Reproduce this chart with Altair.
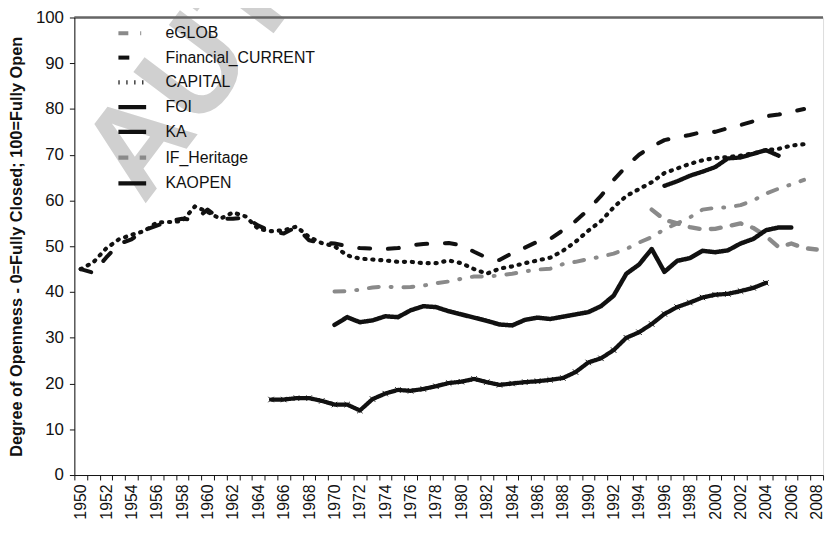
import altair as alt
import pandas as pd

# ---- data ----
years_all = list(range(1950, 2009))
series_names = ["eGLOB", "Financial_CURRENT", "CAPITAL", "FOI", "KA", "IF_Heritage", "KAOPEN"]

fc_start = 1950
fc_vals = [45, 44.2, 47.5, 50.5, 51.5, 53.5, 54.5, 55.5, 56, 55.8, 58.0, 56.0, 56, 56.3, 54.5, 53.3, 52.8, 54.2, 51.3, 50.7,
           50.6, 50, 49.6, 49.5, 49.4, 49.6, 50.2, 50.5, 50.6, 50.7, 50.2, 48.8, 47.5, 47, 48.5, 49.7, 51, 51.6,
           53.5, 55.5, 58, 61, 64.5, 67.5, 70, 71.8, 73.2, 73.8, 74.3, 75, 75, 75.8, 76.5, 77.3, 78.4, 78.8, 79.4, 80]

cap_start = 1950
cap_vals = [45, 46.5, 49.5, 51.5, 52.5, 53.3, 55.2, 55.3, 55.5, 58.7, 57.5, 56, 57.4, 56.5, 53.8, 53.3, 53.5, 54.3, 52, 50.7,
            50.0, 48.0, 47.3, 47.1, 46.9, 46.6, 46.6, 46.3, 46.3, 46.9, 46.3, 45, 44, 45.1, 45.6, 46.3, 46.9, 47.5,
            49, 51, 53.4, 55.5, 58.5, 61, 62.5, 64, 66, 67, 68, 68.8, 69.3, 69.5, 69.8, 70.3, 71, 71.3, 72, 72.3]

eglob_start = 1970
eglob_vals = [40.1, 40.2, 40.5, 41, 41.2, 41, 41.1, 41.4, 41.9, 42.3, 42.9, 43.4, 43.4, 43.6, 44, 44.5, 44.9, 45.1, 46.1, 46.6,
              47.2, 47.7, 48.4, 49.4, 50.8, 52, 53.7, 55, 56.3, 58, 58.4, 58.5, 59, 60, 61.5, 62.6, 63.5, 64.5]

foi_start = 1965
foi_vals = [16.5, 16.5, 16.8, 16.8, 16.2, 15.4, 15.4, 14.1, 16.6, 17.8, 18.6, 18.4, 18.8, 19.4, 20.1, 20.4, 21.0, 20.3, 19.7,
            20.0, 20.3, 20.5, 20.8,
            21.2, 22.5, 24.6, 25.5, 27.3, 30.0, 31.2, 33.0, 35.2, 36.7, 37.7, 38.8, 39.4, 39.6, 40.2, 40.9, 42.0]

kaopen_start = 1970
kaopen_vals = [32.8, 34.5, 33.4, 33.8, 34.7, 34.5, 36.0, 36.9, 36.7, 35.8, 35.1, 34.4, 33.7, 32.9, 32.7, 33.9, 34.4, 34.1,
               34.6, 35.1, 35.6, 36.9, 39.2, 44.0, 46.0, 49.4, 44.4, 46.8, 47.4, 49.0, 48.7, 49.1, 50.6, 51.6, 53.5, 54.1, 54.1]

ka_start = 1996
ka_vals = [63.2, 64.2, 65.4, 66.3, 67.3, 69.2, 69.4, 70.2, 71.0, 69.8]

ifh_start = 1995
ifh_vals = [58.0, 55.8, 55.0, 54.2, 53.7, 53.8, 54.4, 55.0, 54.0, 52.2, 49.8, 50.6, 49.6, 49.3]

series_data = {
    "eGLOB": (eglob_start, eglob_vals),
    "Financial_CURRENT": (fc_start, fc_vals),
    "CAPITAL": (cap_start, cap_vals),
    "FOI": (foi_start, foi_vals),
    "KA": (ka_start, ka_vals),
    "IF_Heritage": (ifh_start, ifh_vals),
    "KAOPEN": (kaopen_start, kaopen_vals),
}

rows = []
for name, (start, vals) in series_data.items():
    for i, v in enumerate(vals):
        rows.append({"year": start + i, "openness": v, "series": name})
df = pd.DataFrame(rows)
foi_df = df[df["series"] == "FOI"]

# ---- styles ----
colors = ["#8a8a8a", "#111111", "#111111", "#111111", "#111111", "#8a8a8a", "#111111"]
dashes = [[10, 12, 1, 12], [11, 18], [1.2, 6.8], [1, 0], [1, 0], [10, 11.5], [1, 0]]
widths = [4, 4.5, 3.5, 1.2, 4.5, 4, 1.6]

FONT = "Liberation Sans"
W, H = 756, 462

legend = alt.Legend(
    title=None, orient="none", legendX=42, legendY=0, symbolType="stroke",
    symbolSize=784, labelFontSize=16, labelFont=FONT, labelOffset=17,
    rowPadding=0, labelColor="#111",
)

x_enc = alt.X("year:O",
              scale=alt.Scale(type="band", domain=years_all, paddingInner=0, paddingOuter=0),
              bandPosition=0.5,
              axis=alt.Axis(title=None, labelAngle=270, labelOverlap=False,
                            labelExpr="datum.value % 2 == 0 ? datum.label : ''",
                            tickBand="extent", tickSize=5, labelFontSize=16, labelFont=FONT,
                            labelPadding=4, labelColor="#111", domainColor="#111", tickColor="#111",
                            grid=False))
y_enc = alt.Y("openness:Q",
              scale=alt.Scale(domain=[0, 100], nice=False),
              axis=alt.Axis(values=list(range(0, 101, 10)),
                            title="Degree of Openness - 0=Fully Closed; 100=Fully Open",
                            titleFontWeight="bold", titleFontSize=16.5, titleFont=FONT, titleColor="#111",
                            titlePadding=11, labelFontSize=17, labelFont=FONT, labelColor="#111",
                            labelPadding=6, tickSize=5, grid=False, domainColor="#111",
                            tickColor="#111", zindex=1))

watermark = alt.Chart(pd.DataFrame({"t": ["AUTHOR'S PROOF"]})).mark_text(
    align="left", baseline="alphabetic", angle=307, fontSize=130, fontWeight="bold",
    font=FONT, color="#d0d0d0"
).encode(text="t:N", x=alt.value(70), y=alt.value(190))

lines = alt.Chart(df).mark_line(strokeCap="round", strokeJoin="round").encode(
    x=x_enc, y=y_enc,
    color=alt.Color("series:N", scale=alt.Scale(domain=series_names, range=colors), legend=legend),
    strokeDash=alt.StrokeDash("series:N", scale=alt.Scale(domain=series_names, range=dashes), legend=legend),
    strokeWidth=alt.StrokeWidth("series:N", scale=alt.Scale(domain=series_names, range=widths), legend=None),
)

markers = alt.Chart(foi_df).mark_point(
    shape="M-1,-1L1,1M-1,1L1,-1", size=30, strokeWidth=1, color="#111", filled=False, opacity=1
).encode(x=x_enc, y=y_enc)

top_border = alt.Chart(pd.DataFrame({"a": [0]})).mark_rule(color="#666", strokeWidth=2.5).encode(
    x=alt.value(0), x2=alt.value(W), y=alt.value(0))

chart = alt.layer(watermark, top_border, lines, markers).properties(
    width=W, height=H,
    autosize=alt.AutoSizeParams(type="none"),
    padding={"left": 67, "top": 7, "right": 4, "bottom": 60},
).configure_view(stroke=None).configure(font=FONT)

chart.save("out.html", embed_options={"renderer": "svg", "actions": False})
